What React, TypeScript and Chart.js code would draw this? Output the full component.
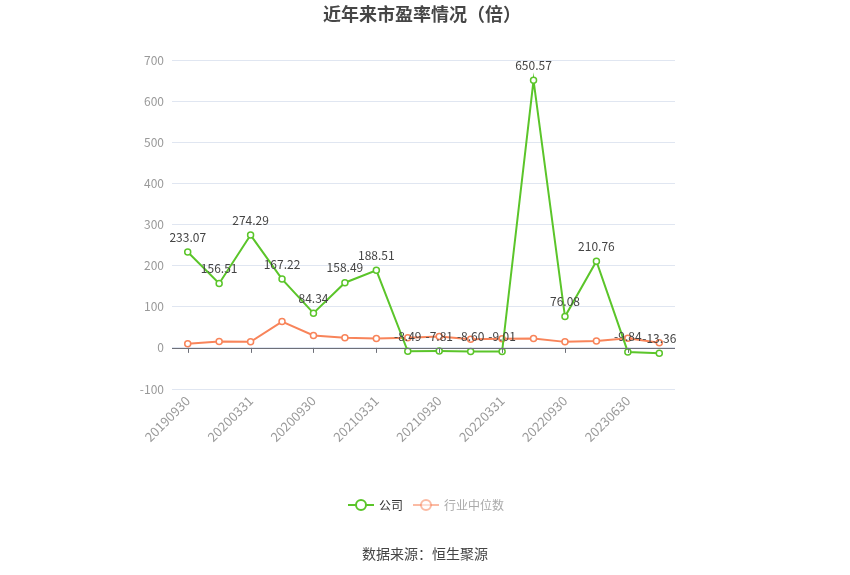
import React, { useEffect, useRef } from 'react';
import { Chart, registerables } from 'chart.js';

Chart.register(...registerables);

const periods = [
  '20190930', '20191231', '20200331', '20200630', '20200930', '20201231',
  '20210331', '20210630', '20210930', '20211231', '20220331', '20220630',
  '20220930', '20230331', '20230630', '20230930',
];
const companyPE = [
  233.07, 156.51, 274.29, 167.22, 84.34, 158.49, 188.51, -8.49,
  -7.81, -8.6, -9.01, 650.57, 76.08, 210.76, -9.84, -13.36,
];
const industryPE = [
  9.8, 15.4, 14.6, 64.0, 30.0, 24.4, 22.8, 24.4,
  27.6, 21.0, 22.0, 22.8, 14.6, 17.0, 23.6, 12.2,
];
const yTicks = { min: -100, max: 700, step: 100 };

const GREEN = '#5bc52a';
const ORANGE = '#f8845a';
const FONT = "'Noto Sans CJK SC', 'Noto Sans', sans-serif";

const App: React.FC = () => {
  const canvasRef = useRef<HTMLCanvasElement>(null);
  const chartRef = useRef<any>(null);

  useEffect(() => {
    document.body.style.margin = '0';
    if (!canvasRef.current) return;

    // zero axis line, tick marks, point labels, title, legend and source
    const decorPlugin = {
      id: 'decor',
      afterDatasetsDraw: (chart: any) => {
        const { ctx, chartArea, scales } = chart;
        const x = scales.x;
        const y = scales.y;
        const y0 = y.getPixelForValue(0);
        ctx.save();
        ctx.strokeStyle = '#6e7079';
        ctx.lineWidth = 1;
        ctx.beginPath();
        ctx.moveTo(chartArea.left, Math.round(y0) + 0.5);
        ctx.lineTo(chartArea.right, Math.round(y0) + 0.5);
        periods.forEach((_, i) => {
          if (i % 2 !== 0) return;
          const px = Math.round(x.getPixelForValue(i)) + 0.5;
          ctx.moveTo(px, y0);
          ctx.lineTo(px, y0 + 5);
        });
        ctx.stroke();

        // value labels of company series
        const meta = chart.getDatasetMeta(0);
        ctx.fillStyle = '#444';
        ctx.font = `12px ${FONT}`;
        ctx.textAlign = 'center';
        ctx.textBaseline = 'middle';
        meta.data.forEach((pt: any, i: number) => {
          ctx.fillText(companyPE[i].toFixed(2), pt.x, pt.y - 15);
        });

        // title
        ctx.fillStyle = '#464646';
        ctx.font = `bold 18px ${FONT}`;
        ctx.fillText('近年来市盈率情况（倍）', 422, 14);

        // legend
        const ly = 505;
        const drawItem = (cx: number, color: string, alpha: number, text: string, textColor: string) => {
          ctx.globalAlpha = alpha;
          ctx.strokeStyle = color;
          ctx.lineWidth = 2;
          ctx.beginPath();
          ctx.moveTo(cx - 13, ly);
          ctx.lineTo(cx + 13, ly);
          ctx.stroke();
          ctx.beginPath();
          ctx.arc(cx, ly, 5, 0, Math.PI * 2);
          ctx.fillStyle = '#fff';
          ctx.fill();
          ctx.stroke();
          ctx.globalAlpha = 1;
          ctx.fillStyle = textColor;
          ctx.font = `12px ${FONT}`;
          ctx.textAlign = 'left';
          ctx.fillText(text, cx + 18, ly);
        };
        drawItem(361, GREEN, 1, '公司', '#333');
        drawItem(426, ORANGE, 0.55, '行业中位数', '#aaa');

        // source
        ctx.fillStyle = '#444';
        ctx.font = `14px ${FONT}`;
        ctx.textAlign = 'center';
        ctx.fillText('数据来源：恒生聚源', 425, 554);
        ctx.restore();
      },
    };

    const pointOpts = (color: string) => ({
      borderColor: color,
      backgroundColor: color,
      borderWidth: 2,
      pointRadius: 3,
      pointBorderWidth: 1.5,
      pointBackgroundColor: '#fff',
      pointBorderColor: color,
      tension: 0,
    });

    chartRef.current = new Chart(canvasRef.current, {
      type: 'line',
      data: {
        labels: periods,
        datasets: [
          { label: '公司', data: companyPE, ...pointOpts(GREEN) },
          { label: '行业中位数', data: industryPE, ...pointOpts(ORANGE) },
        ],
      },
      options: {
        responsive: false,
        animation: false,
        layout: { padding: { top: 60, left: 0, right: 175, bottom: 126 } },
        plugins: {
          legend: { display: false },
          title: { display: false },
          tooltip: { enabled: false },
        },
        scales: {
          x: {
            offset: true,
            grid: { display: false, drawTicks: false },
            border: { display: false },
            afterFit: (scale: any) => { scale.height = 60; },
            ticks: {
              autoSkip: false,
              maxRotation: 45,
              minRotation: 45,
              padding: 4,
              color: '#999',
              font: { size: 13, family: FONT },
              callback: (_v: any, i: number) => (i % 2 === 0 ? periods[i] : ''),
            },
          },
          y: {
            min: yTicks.min,
            max: yTicks.max,
            afterFit: (scale: any) => { scale.width = 172; },
            grid: { color: '#e0e6f1', drawTicks: false },
            border: { display: false },
            ticks: {
              stepSize: yTicks.step,
              padding: 8,
              color: '#999',
              font: { size: 12, family: FONT },
            },
          },
        },
      },
      plugins: [decorPlugin],
    });

    return () => {
      if (chartRef.current) { chartRef.current.destroy(); chartRef.current = null; }
    };
  }, []);

  return (
    <div style={{ position: 'absolute', left: 0, top: 0, width: 850, height: 575, background: '#fff' }}>
      <canvas ref={canvasRef} width={850} height={575} style={{ width: 850, height: 575 }}></canvas>
    </div>
  );
};

export default App;
